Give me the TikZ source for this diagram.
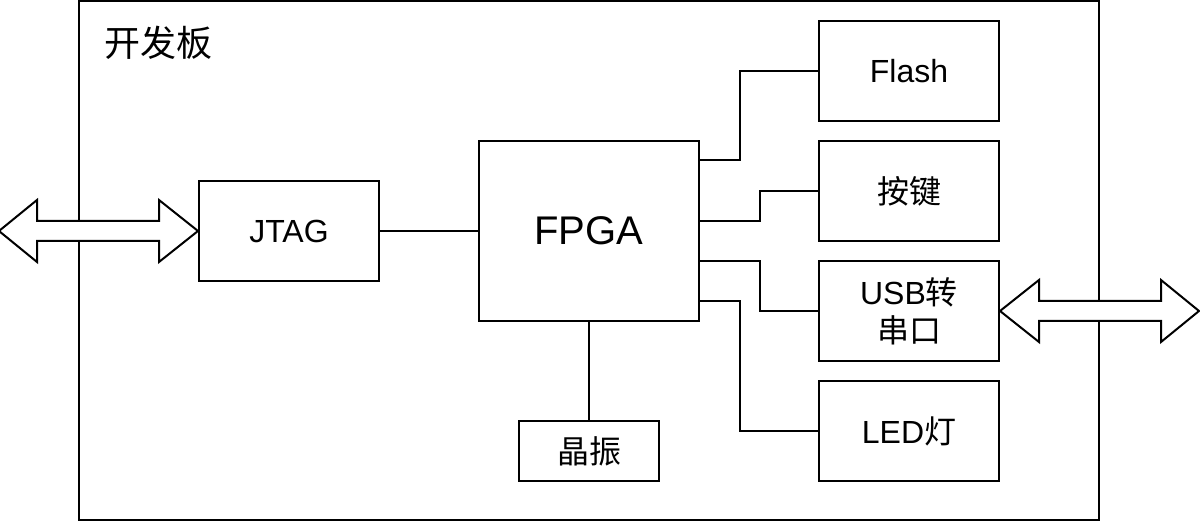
\documentclass[tikz,border=0pt]{standalone}
\usepackage{fontspec}
\setmainfont{Liberation Sans}
\newfontfamily\cjk{Noto Sans CJK SC}
\usetikzlibrary{calc}

\begin{document}
\begin{tikzpicture}[x=0.5pt, y=-0.5pt, line width=1pt,
  blk/.style={draw, rectangle, inner sep=0pt, font=\fontsize{16}{19}\selectfont},
  dblarrow/.style={draw, fill=white, line join=miter}]
\useasboundingbox (0,0) rectangle (1200,522);
% board outline
\node[draw, rectangle, minimum width=510pt, minimum height=259.5pt] (board) at (589,260.5){};
\node[anchor=west, inner sep=0pt, font=\fontsize{18}{21}\selectfont\cjk] (lbl) at (103,43){开发板};
\node[blk, minimum width=90pt, minimum height=50pt] (jtag) at (289,231){JTAG};
\node[blk, minimum width=110pt, minimum height=90pt, font=\fontsize{20}{24}\selectfont] (fpga) at (589,231){FPGA};
\node[blk, minimum width=70pt, minimum height=30pt] (osc) at (589,451){\cjk 晶振};
\node[blk, minimum width=90pt, minimum height=50pt] (flash) at (909,71){Flash};
\node[blk, minimum width=90pt, minimum height=50pt] (key) at (909,191){\cjk 按键};
\node[blk, minimum width=90pt, minimum height=50pt, align=center] (usb) at (909,311){USB{\cjk 转}\\{\cjk 串口}};
\node[blk, minimum width=90pt, minimum height=50pt] (led) at (909,431){LED{\cjk 灯}};
% links
\draw[](jtag) -- (fpga);
\draw[](fpga) -- (osc);
\draw[]($(fpga.north east)+(0,20)$) -- ++(40,0) |- (flash.west);
\draw[]($(fpga.east)+(0,-10)$) -- ++(60,0) |- (key.west);
\draw[]($(fpga.east)+(0,30)$) -- ++(60,0) |- (usb.west);
\draw[]($(fpga.east)+(0,70)$) -- ++(40,0) |- (led.west);
% outside ports
\draw[dblarrow](jtag.west) -- ++(-39,-31) -- ++(0,21) -- ++(-122,0) -- ++(0,-21) -- ++(-38,31)
  -- ++(38,31) -- ++(0,-21) -- ++(122,0) -- ++(0,21) -- cycle;
\draw[dblarrow](usb.east) -- ++(39,-31) -- ++(0,21) -- ++(122,0) -- ++(0,-21) -- ++(38,31)
  -- ++(-38,31) -- ++(0,-21) -- ++(-122,0) -- ++(0,21) -- cycle;
\end{tikzpicture}
\end{document}
